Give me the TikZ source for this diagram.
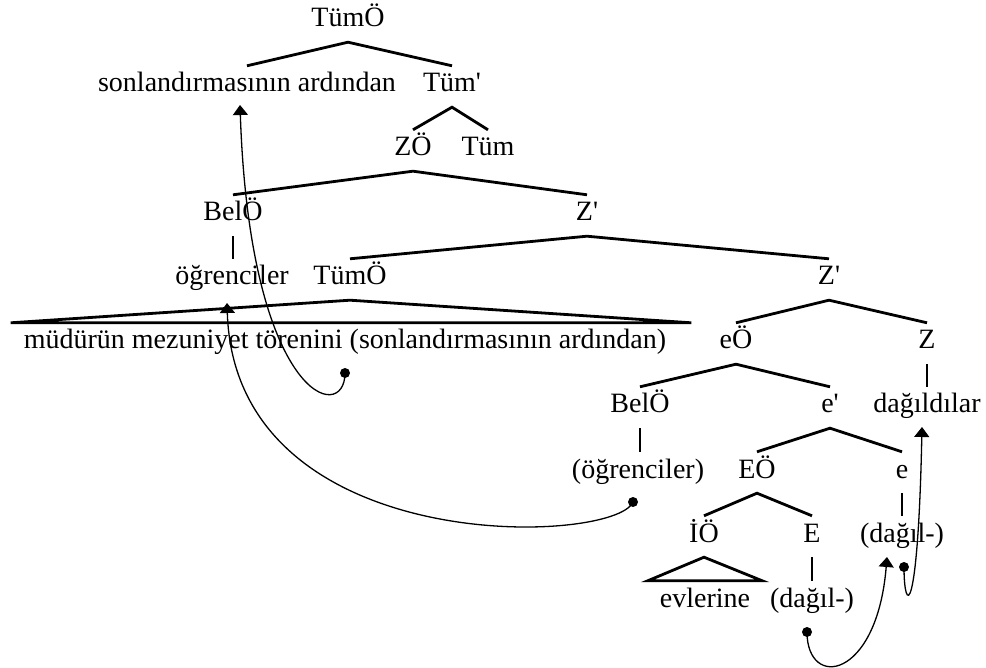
\documentclass[tikz,border=0pt]{standalone}
\usepackage{fontspec}
\setmainfont{Liberation Serif}
\usetikzlibrary{arrows.meta}

\begin{document}
\begin{tikzpicture}[
    x=1pt, y=-1pt,
    lbl/.style={anchor=base, inner xsep=0pt, inner ysep=9pt, text height=17pt, text depth=6pt, font=\fontsize{28}{32}\selectfont},
    branch/.style={line width=2.8pt},
    mv/.style={line width=1.3pt, -{Triangle[width=15pt, length=10pt]}},
    dot/.style={circle, fill=black, inner sep=0pt, minimum size=10pt},
]
\useasboundingbox (0,0) rectangle (986,668);

% ============ Tree nodes ============
\node[lbl] (tumO) at (348, 27) {TümÖ};

\node[lbl] (sonl) at (247, 92) {sonlandırmasının ardından};
\node[lbl] (tumP) at (452, 92) {Tüm\textquotesingle};

\node[lbl] (zO) at (413, 156) {ZÖ};
\node[lbl] (tum) at (488, 156) {Tüm};

\node[lbl] (belO) at (233, 221) {BelÖ};
\node[lbl] (zP) at (587, 221) {Z\textquotesingle};

\node[lbl] (ogr) at (232, 285) {öğrenciler};
\node[lbl] (tumO2) at (350, 285) {TümÖ};
\node[lbl] (zP2) at (829, 285) {Z\textquotesingle};

\node[lbl] (mud) at (345, 349) {müdürün mezuniyet törenini (sonlandırmasının ardından)};
\node[lbl] (eO) at (736, 349) {eÖ};
\node[lbl] (z) at (927, 349) {Z};

\node[lbl] (belO2) at (640, 413) {BelÖ};
\node[lbl] (eP) at (830, 413) {e\textquotesingle};
\node[lbl] (dagildilar) at (927, 413) {dağıldılar};

\node[lbl] (ogr2) at (638, 478) {(öğrenciler)};
\node[lbl] (EO) at (757, 478) {EÖ};
\node[lbl] (e) at (902, 478) {e};

\node[lbl] (iO) at (704, 542) {İÖ};
\node[lbl] (E) at (812, 542) {E};
\node[lbl] (dag1) at (902, 542) {(dağıl-)};

\node[lbl] (evl) at (705, 607) {evlerine};
\node[lbl] (dag2) at (812, 607) {(dağıl-)};

% ============ Branches ============
\draw[branch] (sonl.north) -- (tumO.south) -- (tumP.north);
\draw[branch] (zO.north) -- (tumP.south) -- (tum.north);
\draw[branch] (belO.north) -- (zO.south) -- (zP.north);
\draw[branch] (belO.south) -- (belO.south |- ogr.north);
\draw[branch] (tumO2.north) -- (zP.south) -- (zP2.north);
\draw[branch] (eO.north) -- (zP2.south) -- (z.north);
\draw[branch] (z.south) -- (z.south |- dagildilar.north);
\draw[branch] (belO2.north) -- (eO.south) -- (eP.north);
\draw[branch] (belO2.south) -- (belO2.south |- ogr2.north);
\draw[branch] (EO.north) -- (eP.south) -- (e.north);
\draw[branch] (e.south) -- (dag1.north);
\draw[branch] (iO.north) -- (EO.south) -- (E.north);
\draw[branch] (E.south) -- (dag2.north);

% roofs
\draw[branch] (tumO2.south) -- ([xshift=-13pt]mud.north west) -- ([xshift=25pt]mud.north east) -- cycle;
\draw[branch] (iO.south) -- ([xshift=-12pt]evl.north west) -- ([xshift=12pt]evl.north east) -- cycle;

% ============ Movement ============
\node[dot] (d1) at (345, 373) {};
\node[dot] (d2) at (633, 502) {};
\node[dot] (d3) at (807, 632) {};
\node[dot] (d4) at (904, 567) {};

\coordinate (t1) at (240, 105);
\coordinate (t2) at (227, 303);
\coordinate (t3) at (887, 557);
\coordinate (t4) at (922, 427);

\draw[mv] (d1.center) .. controls (345, 425) and (250, 400) .. (t1);
\draw[mv] (d2.center) .. controls (615, 545) and (235, 560) .. (t2);
\draw[mv] (d3.center) .. controls (807, 690) and (877, 680) .. (t3);
\draw[mv] (d4.center) .. controls (904, 615) and (918, 620) .. (t4);

\end{tikzpicture}
\end{document}
